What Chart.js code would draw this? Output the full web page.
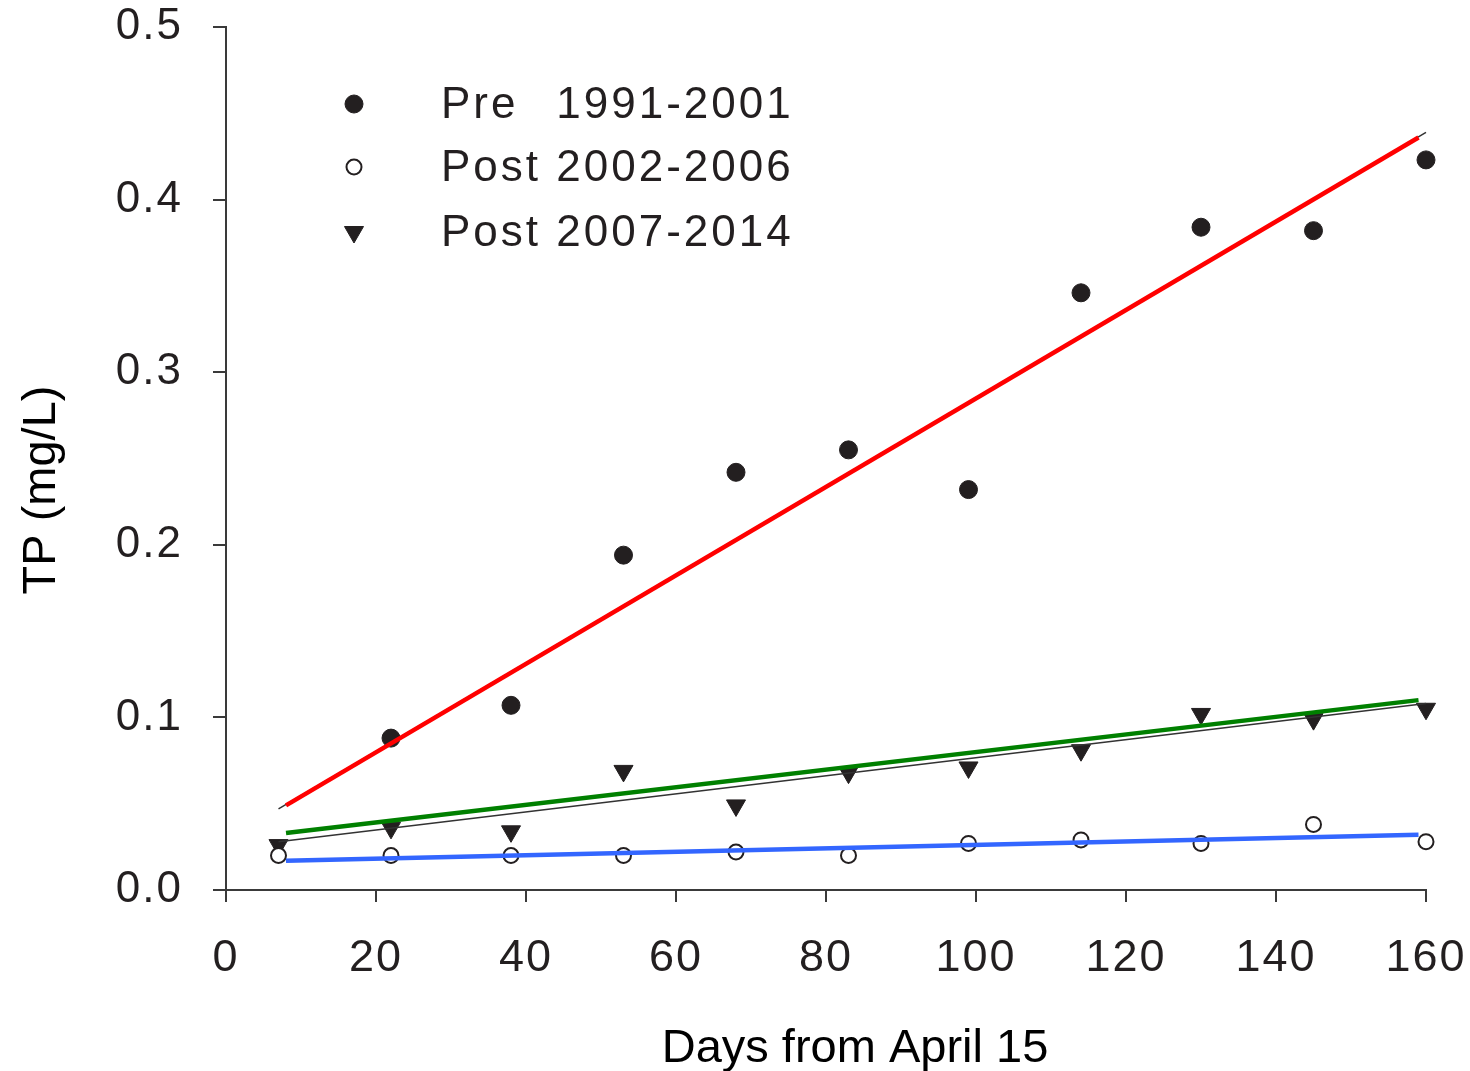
<!DOCTYPE html>
<html>
<head>
<meta charset="utf-8">
<script src="https://cdn.jsdelivr.net/npm/chart.js@4/dist/chart.umd.min.js"></script>
<style>
  html, body { margin: 0; padding: 0; background: #fff; }
  #wrap { width: 1470px; height: 1071px; }
</style>
</head>
<body>
<div id="wrap"><canvas id="chart"></canvas></div>
<script>
"use strict"

// days from April 15 and mean TP (mg/L) per period
const days = [7, 22, 38, 53, 68, 83, 99, 114, 130, 145, 160];
const preTP = [null, 0.088, 0.107, 0.194, 0.242, 0.255, 0.232, 0.346, 0.384, 0.382, 0.423];
const post0206TP = [0.020, 0.020, 0.020, 0.020, 0.022, 0.020, 0.027, 0.029, 0.027, 0.038, 0.028];
const post0714TP = [0.026, 0.036, 0.034, 0.069, 0.049, 0.068, 0.071, 0.081, 0.102, 0.099, 0.105];

// fitted trend lines, end points
const fitDays = [8, 159];
const preFit = [0.049, 0.436];
const post0206Fit = [0.017, 0.032];
const post0714Fit = [0.033, 0.110];
// thin black lines under the coloured ones
const thinDays = [7, 160];
const preThin = [0.047, 0.439];
const post0714Thin = [0.028, 0.108];

const yTicks = [0, 0.1, 0.2, 0.3, 0.4, 0.5];
const xTicks = [0, 20, 40, 60, 80, 100, 120, 140, 160];

const legendNames = [["Pre", "1991-2001"], ["Post", "2002-2006"], ["Post", "2007-2014"]];

const ink = '#231f20';
const axisColor = '#3a3a3a';

function toPoints(xs, ys) {
  return xs.map((x, i) => ({ x: x, y: ys[i] })).filter(p => p.y !== null);
}

function lineSet(xs, ys, color, width, order) {
  return {
    type: 'line',
    data: toPoints(xs, ys),
    borderColor: color,
    borderWidth: width,
    pointRadius: 0,
    fill: false,
    clip: false,
    order: order
  };
}

const datasets = [
  {
    label: legendNames[0].join(' '),
    data: toPoints(days, preTP),
    pointStyle: 'circle',
    pointRadius: 9,
    backgroundColor: ink,
    borderColor: ink,
    borderWidth: 1,
    clip: false,
    order: 3
  },
  {
    label: legendNames[1].join(' '),
    data: toPoints(days, post0206TP),
    pointStyle: 'circle',
    pointRadius: 7.5,
    backgroundColor: '#fff',
    borderColor: ink,
    borderWidth: 2,
    clip: false,
    order: 3
  },
  {
    label: legendNames[2].join(' '),
    data: toPoints(days, post0714TP),
    pointStyle: 'triangle',
    pointRotation: 180,
    pointRadius: 11,
    backgroundColor: ink,
    borderColor: ink,
    borderWidth: 1,
    clip: false,
    order: 3
  },
  lineSet(thinDays, preThin, '#333', 1.5, 2),
  lineSet(thinDays, post0714Thin, '#333', 1.5, 2),
  lineSet(fitDays, preFit, '#ff0000', 4.5, 1),
  lineSet(fitDays, post0206Fit, '#3366ff', 4.5, 1),
  lineSet(fitDays, post0714Fit, '#008000', 4.5, 1)
];

//////////    legend and axis titles    ///////////////

function drawMarker(ctx, ds, x, y) {
  const opts = {
    pointStyle: ds.pointStyle,
    radius: ds.pointRadius,
    rotation: ds.pointRotation || 0,
    borderWidth: ds.borderWidth
  };
  ctx.save();
  ctx.fillStyle = ds.backgroundColor;
  ctx.strokeStyle = ds.borderColor;
  ctx.lineWidth = ds.borderWidth;
  Chart.helpers.drawPoint(ctx, opts, x, y);
  ctx.restore();
}

const decorPlugin = {
  id: 'decor',
  beforeUpdate(chart) {
    chart.ctx.letterSpacing = '2px';
  },
  beforeDraw(chart) {
    chart.ctx.letterSpacing = '2px';
  },
  afterDraw(chart) {
    const ctx = chart.ctx;
    ctx.save();
    ctx.letterSpacing = '3px';
    ctx.fillStyle = ink;
    ctx.font = '44px "Liberation Sans", Arial, sans-serif';
    ctx.textBaseline = 'middle';
    const numX = 441 + ctx.measureText('Post ').width;
    const rows = [104, 167, 232];
    legendNames.forEach((name, i) => {
      drawMarker(ctx, chart.data.datasets[i], 354, rows[i]);
      ctx.fillText(name[0], 441, rows[i] + 2);
      ctx.fillText(name[1], numX, rows[i] + 2);
    });

    ctx.letterSpacing = '0px';
    ctx.fillStyle = '#000';
    ctx.font = '47px "Liberation Sans", Arial, sans-serif';
    ctx.textAlign = 'center';
    ctx.textBaseline = 'alphabetic';
    ctx.fillText('Days from April 15', 855, 1062);

    ctx.translate(55, 490);
    ctx.rotate(-Math.PI / 2);
    ctx.fillText('TP (mg/L)', 0, 0);
    ctx.restore();
  }
};

///////////   Create chart    //////////////////////

new Chart(document.getElementById('chart'), {
  type: 'scatter',
  data: { datasets: datasets },
  plugins: [decorPlugin],
  options: {
    responsive: true,
    maintainAspectRatio: false,
    animation: false,
    layout: { padding: { top: 27, right: 44, left: 0, bottom: 0 } },
    plugins: {
      legend: { display: false },
      tooltip: { enabled: false }
    },
    scales: {
      x: {
        type: 'linear',
        min: 0,
        max: 160,
        afterFit: s => {
          s.height = 181;
          s.paddingLeft = 0;
          s.paddingRight = 0;
        },
        afterBuildTicks: s => { s.ticks = xTicks.map(v => ({ value: v })); },
        border: { display: true, color: axisColor, width: 2 },
        grid: { drawOnChartArea: false, drawTicks: true, tickLength: 12, color: axisColor, lineWidth: 2 },
        ticks: {
          color: ink,
          padding: 30,
          maxRotation: 0,
          font: { family: '"Liberation Sans", Arial, sans-serif', size: 45 }
        }
      },
      y: {
        min: 0,
        max: 0.5,
        afterFit: s => {
          s.width = 226;
          s.paddingTop = 0;
          s.paddingBottom = 0;
        },
        afterBuildTicks: s => { s.ticks = yTicks.map(v => ({ value: v })); },
        border: { display: true, color: axisColor, width: 2 },
        grid: { drawOnChartArea: false, drawTicks: true, tickLength: 13, color: axisColor, lineWidth: 2 },
        ticks: {
          color: ink,
          padding: 30,
          callback: v => v.toFixed(1),
          font: { family: '"Liberation Sans", Arial, sans-serif', size: 44 }
        }
      }
    }
  }
});
</script>
</body>
</html>
